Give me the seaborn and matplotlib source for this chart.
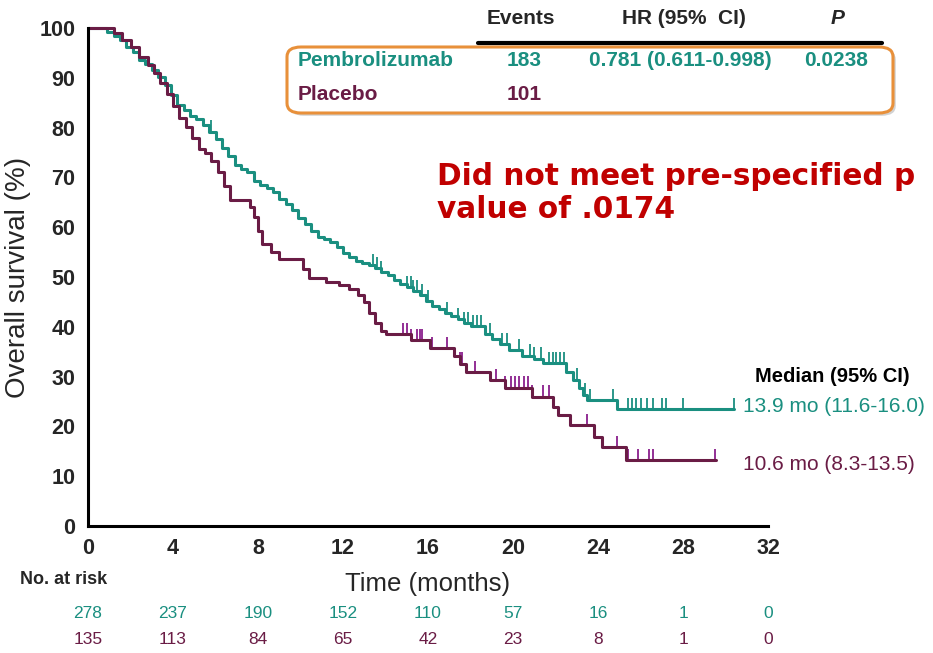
import numpy as np
import pandas as pd
import matplotlib
matplotlib.use("Agg")
import matplotlib.pyplot as plt
from matplotlib.patches import FancyBboxPatch
import matplotlib.patheffects as pe
import seaborn as sns

# ---------------- data ----------------
pembro_t = [0, 0.9, 1.2, 1.5, 1.8, 2.1, 2.4, 2.7, 3.0, 3.3, 3.6, 3.9, 4.2, 4.5, 4.8,
            5.1, 5.4, 5.7, 6.0, 6.3, 6.6, 6.9, 7.2, 7.5, 7.8, 8.1, 8.4, 8.7, 9.0, 9.3,
            9.6, 9.9, 10.2, 10.5, 10.8, 11.1, 11.4, 11.7, 12.0, 12.3, 12.6, 12.9, 13.2,
            13.5, 13.8, 14.1, 14.4, 14.7, 15.0, 15.3, 15.6, 15.9, 16.2, 16.5, 16.8, 17.1,
            17.4, 17.7, 18.0, 18.7, 19.0, 19.4, 19.8, 20.4, 21.0, 21.4, 22.5, 22.8, 23.1,
            23.3, 23.5, 24.9, 30.4]
pembro_s = [100, 99.2, 98.4, 97.6, 96.2, 95.2, 93.6, 92.8, 91.6, 90.2, 88.6, 86.6, 84.6,
            83.6, 82.4, 81.8, 80.6, 79.2, 77.8, 76.0, 74.2, 72.4, 71.6, 71.0, 69.2, 68.4,
            67.8, 67.0, 65.6, 64.6, 63.4, 61.8, 60.6, 59.2, 58.0, 57.6, 57.0, 56.0, 54.8,
            54.0, 53.2, 52.8, 52.4, 51.8, 51.0, 50.4, 49.4, 48.6, 48.0, 47.2, 46.4, 45.2,
            44.2, 43.6, 42.8, 42.2, 41.6, 40.8, 40.2, 38.6, 37.6, 36.6, 35.4, 34.2, 33.6,
            32.7, 31.0, 29.4, 27.8, 26.4, 25.3, 23.5, 23.5]

placebo_t = [0, 1.2, 1.6, 2.0, 2.4, 2.8, 3.1, 3.4, 3.7, 4.0, 4.3, 4.6, 4.9, 5.2, 5.5, 5.8,
             6.1, 6.4, 6.7, 7.6, 7.8, 8.0, 8.2, 8.6, 9.0, 10.1, 10.4, 11.2, 11.8, 12.3,
             12.7, 13.0, 13.2, 13.5, 13.8, 14.0, 15.2, 16.1, 17.2, 17.5, 17.8, 18.9, 19.6,
             20.9, 21.9, 22.1, 22.7, 23.8, 24.2, 25.3, 29.55]
placebo_s = [100, 99.0, 97.6, 96.2, 94.2, 92.6, 91.0, 89.0, 86.8, 84.4, 82.0, 80.2, 78.0,
             75.8, 74.8, 73.2, 71.0, 68.2, 65.5, 64.0, 62.0, 59.2, 56.6, 55.0, 53.6, 51.6,
             49.8, 49.0, 48.4, 47.6, 46.4, 45.0, 42.8, 40.8, 39.2, 38.6, 37.4, 35.8, 34.2,
             32.6, 30.9, 29.3, 27.8, 26.0, 23.9, 22.3, 20.3, 17.9, 15.9, 13.2, 13.2]

pembro_censor = [5.8, 13.4, 13.6, 13.8, 15.0, 15.2, 15.3, 15.5, 15.7, 16.0, 16.9, 17.4,
                 17.7, 17.9, 18.1, 18.3, 18.5, 18.9, 19.5, 19.7, 20.3, 20.8, 21.0, 21.3,
                 21.7, 21.9, 22.0, 22.2, 22.4, 23.0, 23.4, 23.6, 24.7, 25.4, 25.6, 25.8,
                 26.0, 26.3, 26.6, 27.0, 27.2, 28.0, 30.4]
placebo_censor = [13.5, 14.8, 15.0, 15.2, 15.5, 15.6, 15.7, 16.2, 16.9, 17.5, 17.6, 18.2,
                  19.2, 19.6, 19.9, 20.1, 20.3, 20.5, 20.7, 20.9, 21.4, 21.7, 23.5, 24.9,
                  25.4, 25.9, 26.4, 26.6, 29.5]

x_ticks = [0, 4, 8, 12, 16, 20, 24, 28, 32]
y_ticks = [0, 10, 20, 30, 40, 50, 60, 70, 80, 90, 100]
risk_pembro = [278, 237, 190, 152, 110, 57, 16, 1, 0]
risk_placebo = [135, 113, 84, 65, 42, 23, 8, 1, 0]

TEAL = "#1a8f80"
MAROON = "#6a1c45"
MAROON_TICK = "#8a1f8c"
NARROW = ["Liberation Sans Narrow", "Liberation Sans", "DejaVu Sans"]

# ---------------- figure ----------------
sns.set_theme(style="white")
plt.rcParams["font.family"] = NARROW

fig = plt.figure(figsize=(9.33, 6.53), dpi=100)
ax = fig.add_axes([88 / 933, 1 - 526 / 653, (768 - 88) / 933, (526 - 28) / 653])

curves = pd.concat([
    pd.DataFrame({"t": pembro_t, "s": pembro_s, "arm": "Pembrolizumab"}),
    pd.DataFrame({"t": placebo_t, "s": placebo_s, "arm": "Placebo"}),
])
sns.lineplot(data=curves, x="t", y="s", hue="arm", palette={"Pembrolizumab": TEAL, "Placebo": MAROON},
             estimator=None, sort=False, drawstyle="steps-post", linewidth=2.2, legend=False,
             ax=ax, clip_on=False)


def step_at(tt, ts, ss):
    idx = np.searchsorted(np.asarray(ts), np.asarray(tt), side="right") - 1
    return np.asarray(ss)[idx]


cen = pd.concat([
    pd.DataFrame({"t": pembro_censor, "s": step_at(pembro_censor, pembro_t, pembro_s) + 1.0, "arm": "P"}),
    pd.DataFrame({"t": placebo_censor, "s": step_at(placebo_censor, placebo_t, placebo_s) + 1.0, "arm": "Q"}),
])
sns.scatterplot(data=cen, x="t", y="s", hue="arm", palette={"P": TEAL, "Q": MAROON_TICK},
                marker="|", s=80, linewidth=1.3, legend=False, ax=ax, clip_on=False)

ax.set_xlim(0, 32)
ax.set_ylim(0, 100)
ax.set_xticks(x_ticks)
ax.set_yticks(y_ticks)
ax.set_xticklabels([str(v) for v in x_ticks], fontsize=15.5, fontweight="bold")
ax.set_yticklabels([str(v) for v in y_ticks], fontsize=15.5, fontweight="bold")
for s in ["top", "right"]:
    ax.spines[s].set_visible(False)
for s in ["left", "bottom"]:
    ax.spines[s].set_linewidth(2.2)
    ax.spines[s].set_color("black")
ax.tick_params(axis="both", direction="out", length=6, width=1.8, color="black", pad=3)
ax.set_xlabel("")
ax.set_ylabel("Overall survival (%)", fontsize=20, labelpad=6)
ax.grid(False)

# x label and risk table
fig.text(428 / 933, 1 - 584 / 653, "Time (months)", ha="center", va="center", fontsize=18.5)
fig.text(20 / 933, 1 - 580 / 653, "No. at risk", ha="left", va="center", fontsize=13, fontweight="bold")
for xv, a, b in zip(x_ticks, risk_pembro, risk_placebo):
    xp = (88 + xv * 21.25) / 933
    fig.text(xp, 1 - 613 / 653, str(a), ha="center", va="center", fontsize=12.5, color=TEAL)
    fig.text(xp, 1 - 640 / 653, str(b), ha="center", va="center", fontsize=12.5, color=MAROON)

# legend table
fig.text(521 / 933, 1 - 19 / 653, "Events", ha="center", va="center", fontsize=15, fontweight="bold")
fig.text(684 / 933, 1 - 19 / 653, "HR (95%  CI)", ha="center", va="center", fontsize=15, fontweight="bold")
fig.text(838 / 933, 1 - 19 / 653, "P", ha="center", va="center", fontsize=15, fontweight="bold", style="italic")
fig.add_artist(plt.Line2D([478 / 933, 882 / 933], [1 - 43 / 653, 1 - 43 / 653], color="black", lw=3,
                          transform=fig.transFigure))
box = FancyBboxPatch((287 / 933, 1 - 113 / 653), (893 - 287) / 933, (113 - 47) / 653,
                     boxstyle="round,pad=0,rounding_size=0.015", transform=fig.transFigure,
                     facecolor="white", edgecolor="#e8903a", linewidth=2.2,
                     path_effects=[pe.SimplePatchShadow(offset=(2, -2), alpha=0.25), pe.Normal()])
fig.add_artist(box)
fig.text(298 / 933, 1 - 61 / 653, "Pembrolizumab", ha="left", va="center", fontsize=15, fontweight="bold", color=TEAL)
fig.text(298 / 933, 1 - 95 / 653, "Placebo", ha="left", va="center", fontsize=15, fontweight="bold", color=MAROON)
fig.text(524 / 933, 1 - 61 / 653, "183", ha="center", va="center", fontsize=15, fontweight="bold", color=TEAL)
fig.text(524 / 933, 1 - 95 / 653, "101", ha="center", va="center", fontsize=15, fontweight="bold", color=MAROON)
fig.text(680 / 933, 1 - 61 / 653, "0.781 (0.611-0.998)", ha="center", va="center", fontsize=15, fontweight="bold", color=TEAL)
fig.text(836 / 933, 1 - 61 / 653, "0.0238", ha="center", va="center", fontsize=15, fontweight="bold", color=TEAL)

# annotation
fig.text(437 / 933, 1 - 193 / 653, "Did not meet pre-specified p\nvalue of .0174", ha="left", va="center",
         fontsize=21.3, fontweight="bold", color="#c00000", family="DejaVu Sans", linespacing=1.2)

# medians
fig.text(755 / 933, 1 - 377 / 653, "Median (95% CI)", ha="left", va="center", fontsize=14.5, fontweight="bold", color="black")
fig.text(743 / 933, 1 - 406 / 653, "13.9 mo (11.6-16.0)", ha="left", va="center", fontsize=15, color=TEAL)
fig.text(743 / 933, 1 - 464 / 653, "10.6 mo (8.3-13.5)", ha="left", va="center", fontsize=15, color=MAROON)

fig.savefig("out.png", dpi=100)
